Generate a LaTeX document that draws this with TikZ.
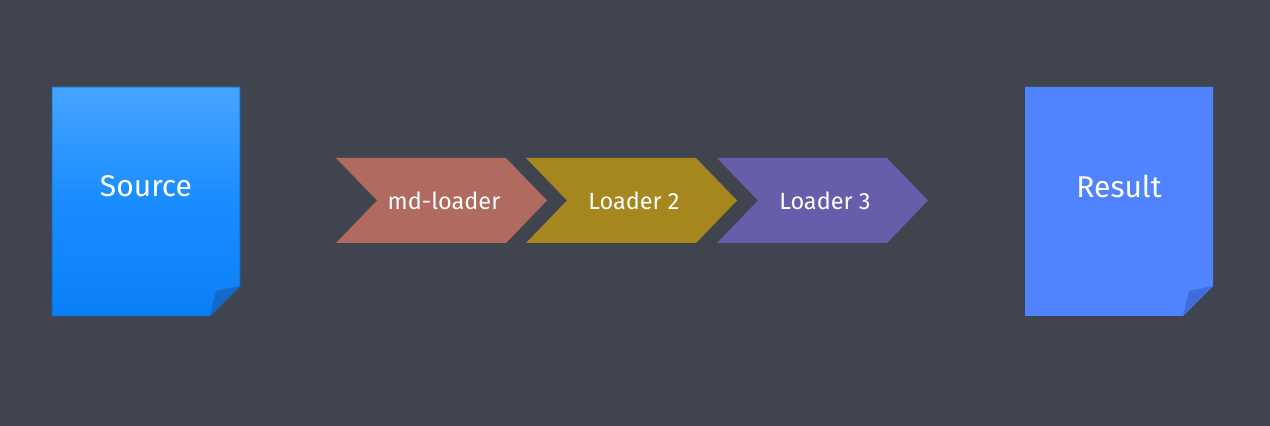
\documentclass[tikz,border=0pt]{standalone}
\usepackage{fontspec}
\setmainfont{Fira Sans}
\definecolor{bg}{HTML}{40444F}
\definecolor{srctop}{HTML}{46A4FF}
\definecolor{srcmid}{HTML}{1A8CFF}
\definecolor{srcbot}{HTML}{0A7FF6}
\definecolor{srcflap}{HTML}{1768CC}
\definecolor{res}{HTML}{5083FF}
\definecolor{resflap}{HTML}{3F6CD8}
\definecolor{cA}{HTML}{B06A60}
\definecolor{cB}{HTML}{A6871E}
\definecolor{cC}{HTML}{655EAA}
\tikzset{
  doctext/.style={text=white,font=\fontsize{30}{34}\selectfont},
  chevtext/.style={text=white,font=\fontsize{23.5}{26}\selectfont},
}
\newcommand{\chev}[2]{%
  \fill[#2] (#1,268) -- (#1+170,268) -- (#1+211,225.5) -- (#1+170,183) -- (#1,183) -- (#1+41,225.5) -- cycle;}
\begin{document}
\begin{tikzpicture}[x=1pt,y=1pt]
\fill[bg] (0,0) rectangle (1270,426);
\useasboundingbox (0,0) rectangle (1270,426);
% Source document
\shade[top color=srctop,bottom color=srcbot,middle color=srcmid] (52,339) -- (240,339) -- (240,140) -- (210,110) -- (52,110) -- cycle;
\draw[srcbot!80!black,line width=0.6] (52,339) -- (240,339) -- (240,140) -- (210,110) -- (52,110) -- cycle;
\fill[srcflap] (210,110) -- (216,135) -- (240,140) -- cycle;
\node[doctext] (source) at (146,240) {Source};
% Result document
\fill[res] (1025,339) -- (1213,339) -- (1213,140) -- (1183,110) -- (1025,110) -- cycle;
\fill[resflap] (1183,110) -- (1189,135) -- (1213,140) -- cycle;
\node[doctext] (result) at (1119,240) {Result};
% Chevrons
\chev{336}{cA}
\chev{526}{cB}
\chev{717}{cC}
\node[chevtext] (l1) at (444,225.5) {md-loader};
\node[chevtext] (l2) at (634,225.5) {Loader 2};
\node[chevtext] (l3) at (825,225.5) {Loader 3};
\end{tikzpicture}
\end{document}
